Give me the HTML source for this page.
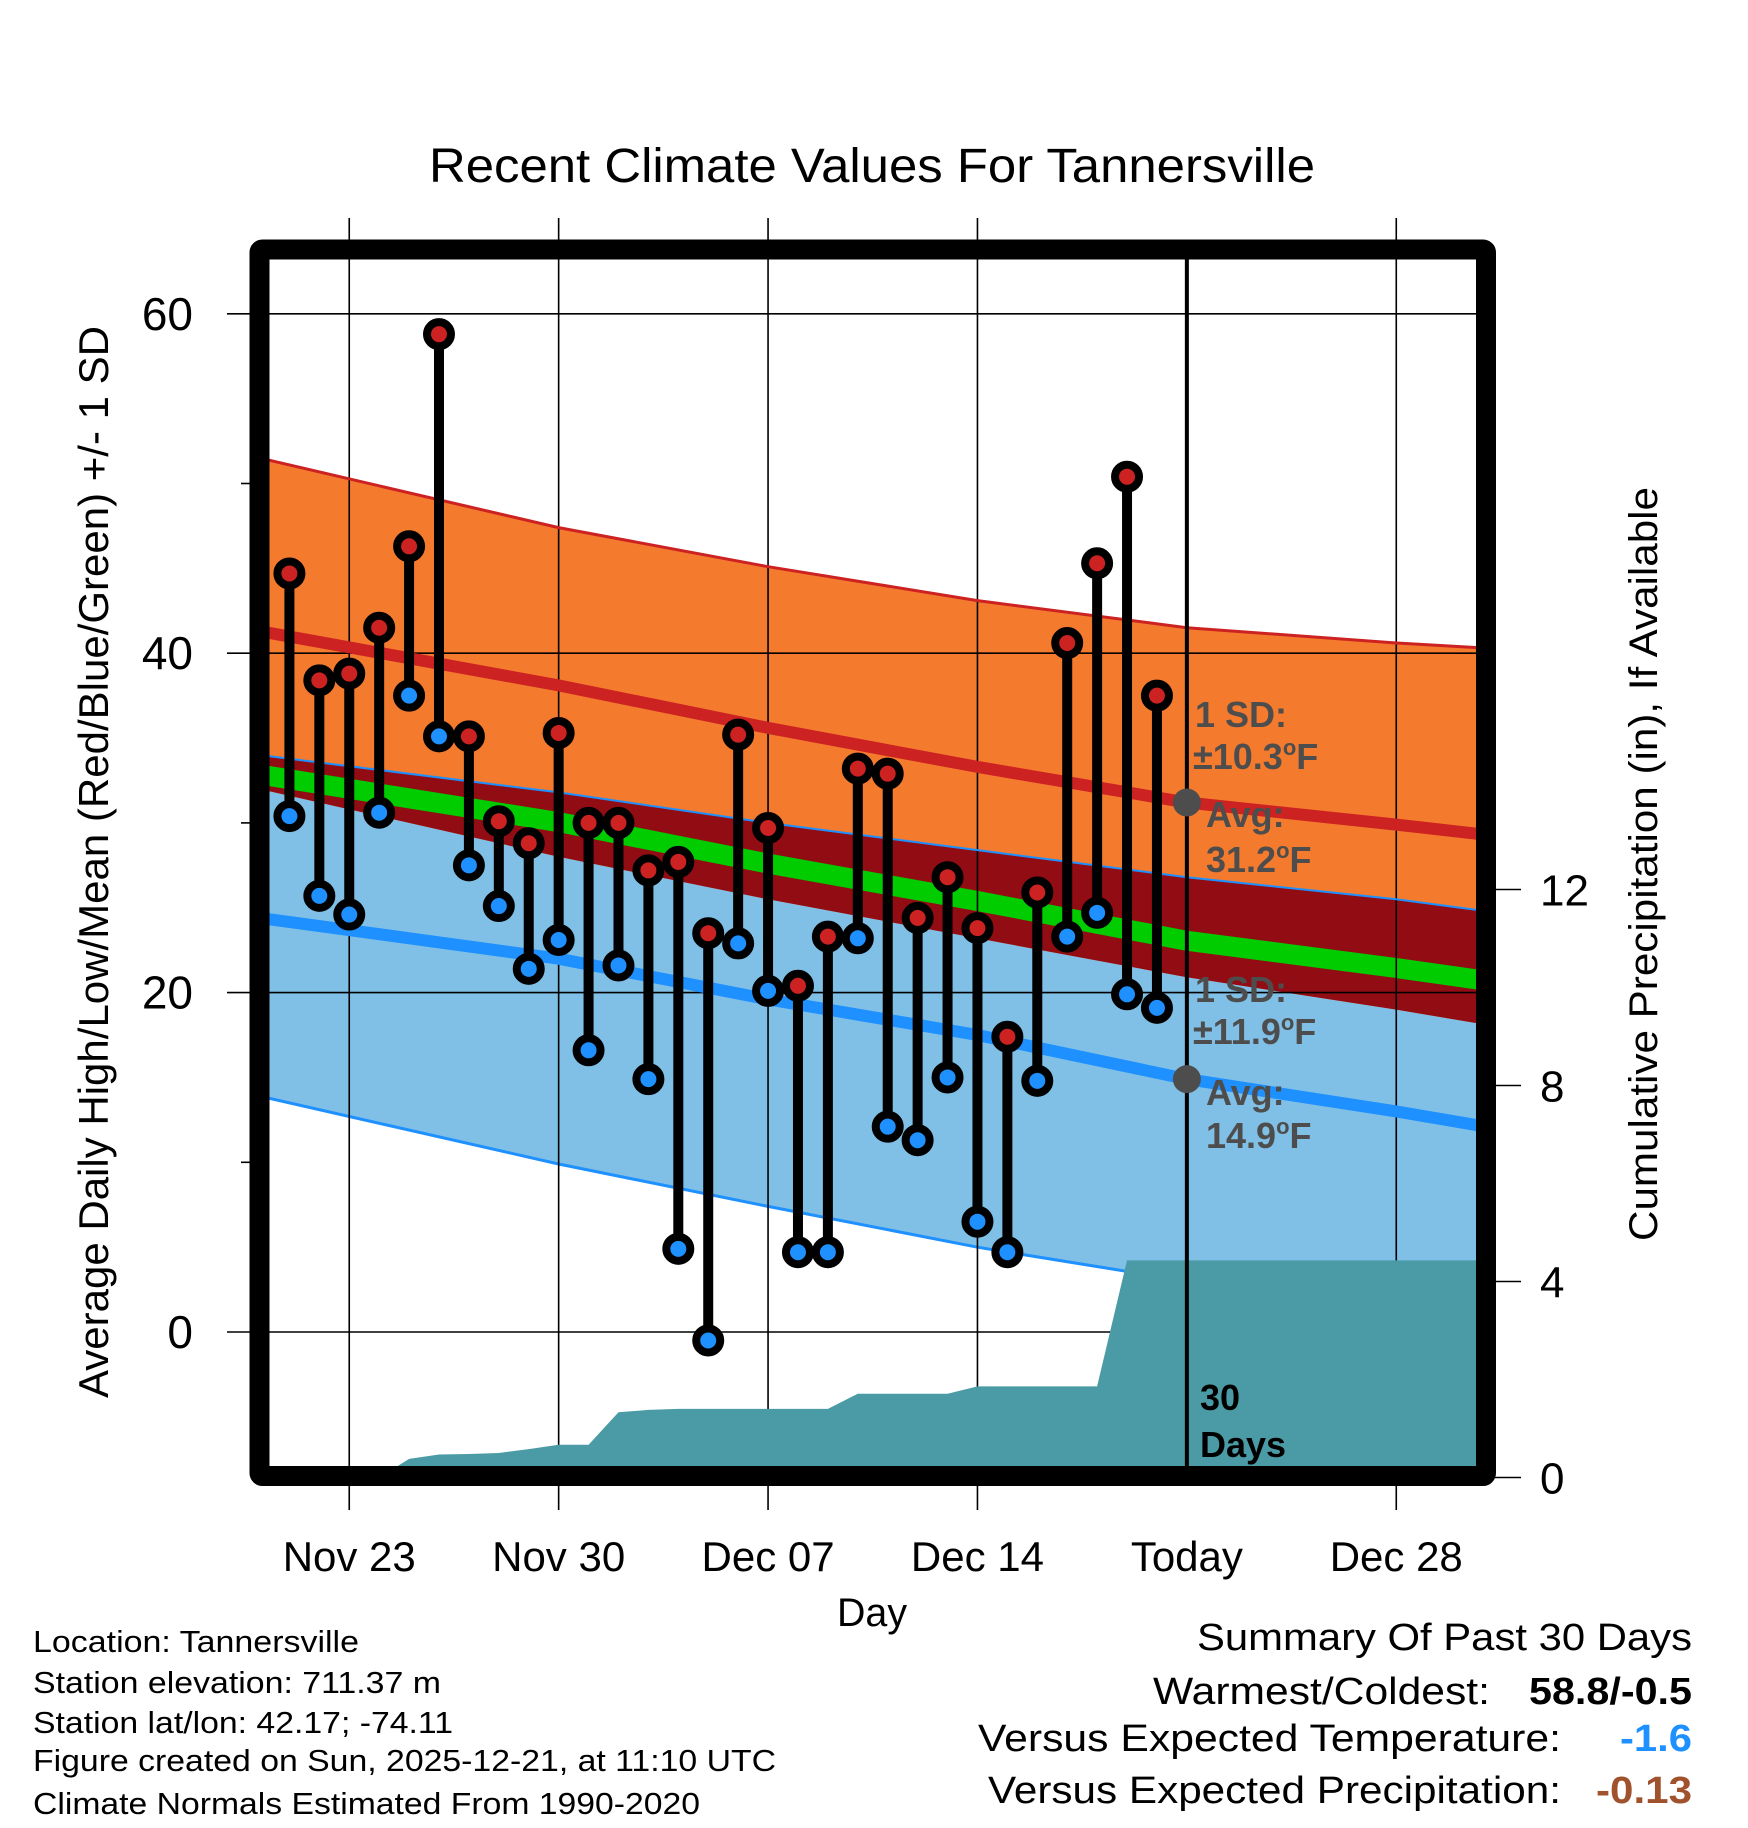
<!DOCTYPE html>
<html><head><meta charset="utf-8"><style>
html,body{margin:0;padding:0;background:#fff;}
svg{display:block;font-family:"Liberation Sans",Arial,sans-serif;}
</style></head><body>
<svg id="chart" width="1748" height="1828" viewBox="0 0 1748 1828" xmlns="http://www.w3.org/2000/svg">
<defs><clipPath id="plotclip"><rect x="259.5" y="249.5" width="1226.5" height="1226.5"/></clipPath></defs>
<rect x="0" y="0" width="1748" height="1828" fill="#fff"/>
<text x="872" y="182" font-size="48" text-anchor="middle" textLength="886" lengthAdjust="spacingAndGlyphs">Recent Climate Values For Tannersville</text>
<g id="fills" clip-path="url(#plotclip)"></g>
<g id="grid"></g>
<g id="precip" clip-path="url(#plotclip)"></g>
<g id="normlines" clip-path="url(#plotclip)"></g>
<g id="marks"></g>
<g id="annot"></g>
<rect x="259.5" y="249.5" width="1226.5" height="1226.5" fill="none" stroke="#000" stroke-width="20" rx="3"/>
<g id="axes"></g>
<text x="872" y="1626" font-size="40" text-anchor="middle" textLength="70" lengthAdjust="spacingAndGlyphs">Day</text>
<text transform="translate(108,862) rotate(-90)" font-size="42" text-anchor="middle" textLength="1072" lengthAdjust="spacingAndGlyphs">Average Daily High/Low/Mean (Red/Blue/Green) +/- 1 SD</text>
<text transform="translate(1657,864) rotate(-90)" font-size="40" text-anchor="middle" textLength="754" lengthAdjust="spacingAndGlyphs">Cumulative Precipitation (in), If Available</text>
<g font-size="31">
<text x="33" y="1652" textLength="326" lengthAdjust="spacingAndGlyphs">Location: Tannersville</text>
<text x="33" y="1693" textLength="408" lengthAdjust="spacingAndGlyphs">Station elevation: 711.37 m</text>
<text x="33" y="1733" textLength="420" lengthAdjust="spacingAndGlyphs">Station lat/lon: 42.17; -74.11</text>
<text x="33" y="1771" textLength="743" lengthAdjust="spacingAndGlyphs">Figure created on Sun, 2025-12-21, at 11:10 UTC</text>
<text x="33" y="1814" textLength="667" lengthAdjust="spacingAndGlyphs">Climate Normals Estimated From 1990-2020</text>
</g>
<g font-size="38">
<text x="1692" y="1650" text-anchor="end" textLength="495" lengthAdjust="spacingAndGlyphs">Summary Of Past 30 Days</text>
<text x="1490" y="1704" text-anchor="end" textLength="337" lengthAdjust="spacingAndGlyphs">Warmest/Coldest:</text>
<text x="1692" y="1704" text-anchor="end" font-weight="bold" textLength="163" lengthAdjust="spacingAndGlyphs">58.8/-0.5</text>
<text x="1561" y="1751" text-anchor="end" textLength="583" lengthAdjust="spacingAndGlyphs">Versus Expected Temperature:</text>
<text x="1692" y="1751" text-anchor="end" font-weight="bold" fill="#1e90ff" textLength="72" lengthAdjust="spacingAndGlyphs">-1.6</text>
<text x="1561" y="1803" text-anchor="end" textLength="573" lengthAdjust="spacingAndGlyphs">Versus Expected Precipitation:</text>
<text x="1692" y="1803" text-anchor="end" font-weight="bold" fill="#a0522d" textLength="96" lengthAdjust="spacingAndGlyphs">-0.13</text>
</g>
</svg>
<script>
// ---- data ----
const highs = [44.7,38.4,38.8,41.5,46.3,58.8,35.1,30.1,28.8,35.3,30.0,30.0,27.2,27.7,23.5,35.2,29.7,20.4,23.3,33.2,32.9,24.4,26.8,23.8,17.4,25.9,40.6,45.3,50.4,37.5];
const lows  = [30.4,25.7,24.6,30.6,37.5,35.1,27.5,25.1,21.4,23.1,16.6,21.6,14.9,4.9,-0.5,22.9,20.1,4.7,4.7,23.2,12.1,11.3,15.0,6.5,4.7,14.8,23.3,24.7,19.9,19.1];
const precip = [0,0,0,0,0.38,0.47,0.48,0.50,0.58,0.67,0.67,1.33,1.38,1.40,1.40,1.40,1.40,1.40,1.40,1.71,1.71,1.71,1.71,1.86,1.86,1.86,1.86,1.86,4.43,4.43];
const normDays  = [0,10,17,24,31,38,41];
const highUpper = [51.5,47.4,45.1,43.1,41.5,40.6,40.3];
const highAvg   = [41.3,38.1,35.6,33.3,31.2,29.9,29.3];
const highLower = [32.0,28.0,25.5,23.2,20.9,19.0,18.1];
const lowUpper  = [34.0,31.8,30.0,28.4,26.8,25.5,24.8];
const lowAvg    = [24.4,22.0,19.6,17.5,14.9,13.0,12.1];
const lowLower  = [13.9,9.9,7.4,5.0,3.0,1.1,0.4];
const xTickLabels = ["Nov 23","Nov 30","Dec 07","Dec 14","Today","Dec 28"];
const xTickDays = [3,10,17,24,31,38];
const yTicks = [0,20,40,60];
const yMinor = [10,30,50];
const y2Ticks = [0,4,8,12];
const todayDay = 31;

// ---- axes ----
const NS="http://www.w3.org/2000/svg";
const X0=259.5, DX=29.915;
const xOf=d=>X0+d*DX;
const yT=t=>1332-t*16.97;
const yP=p=>1477.5-p*49;
function mk(tag,parent,attrs){const e=document.createElementNS(NS,tag);for(const k in attrs)e.setAttribute(k,attrs[k]);parent.appendChild(e);return e;}
const fills=document.getElementById('fills'), grid=document.getElementById('grid'), pg=document.getElementById('precip'),
 nl=document.getElementById('normlines'), marks=document.getElementById('marks'), annot=document.getElementById('annot'), axes=document.getElementById('axes');
const pts=(arr)=>normDays.map((d,i)=>xOf(d).toFixed(1)+','+yT(arr[i]).toFixed(1));
function band(a,b,color,name){
  const p=pts(a).concat(pts(b).reverse()).join(' ');
  const e=mk('polygon',fills,{points:p,fill:color});
  
  
}
band(lowUpper,lowLower,'#80c0e6','low-sd-band');
band(highUpper,highLower,'#f47a2e','high-sd-band');
band(lowUpper,highLower,'#920c13','overlap-band');
const meanVals=highAvg.map((h,i)=>(h+lowAvg[i])/2);
function line(arr,color,w,name,parent){
  const e=mk('polyline',parent,{points:pts(arr).join(' '),fill:'none',stroke:color,'stroke-width':w});
  
  
}
line(meanVals,'#00cc00',20,'mean-line',fills);
line(lowLower,'#1e90ff',3,'low-lower-line',fills);
// grid
xTickDays.forEach((d,i)=>{
  if(d===todayDay) return;
  const e=mk('line',grid,{x1:xOf(d),x2:xOf(d),y1:218,y2:1510,stroke:'#000','stroke-width':1.6});
  
  
});
yTicks.forEach(t=>{
  const e=mk('line',grid,{x1:227,x2:1486,y1:yT(t),y2:yT(t),stroke:'#000','stroke-width':1.6});
  
  
});
// precipitation
let pp=[xOf(0)+','+yP(0)];
precip.forEach((v,i)=>pp.push(xOf(i+1).toFixed(1)+','+yP(v).toFixed(1)));
pp.push(xOf(41)+','+yP(precip[precip.length-1]));
pp.push(xOf(41)+','+yP(0));
const pa=mk('polygon',pg,{points:pp.join(' '),fill:'#4a9ba5'});


// normal lines
line(highUpper,'#cc2222',3,'high-upper-line',nl);
line(lowUpper,'#1e90ff',2,'low-upper-line',nl);
line(highAvg,'#cc2222',12,'high-avg-line',nl);
line(lowAvg,'#1e90ff',12,'low-avg-line',nl);
// today line
const tl=mk('line',marks,{x1:xOf(todayDay),x2:xOf(todayDay),y1:252,y2:1474,stroke:'#000','stroke-width':4});


// stems & markers
highs.forEach((h,i)=>{
  const x=xOf(i+1);
  const s=mk('line',marks,{x1:x,x2:x,y1:yT(h),y2:yT(lows[i]),stroke:'#000','stroke-width':10});
  
  
});
highs.forEach((h,i)=>{
  const x=xOf(i+1);
  const a=mk('circle',marks,{cx:x,cy:yT(h),r:12,fill:'#cc2222',stroke:'#000','stroke-width':8});
  
  
  const b=mk('circle',marks,{cx:x,cy:yT(lows[i]),r:12,fill:'#1e90ff',stroke:'#000','stroke-width':8});
  
  
});
// annotations
const hA=highAvg[4], lA=lowAvg[4];
[[hA,'high-avg-dot'],[lA,'low-avg-dot']].forEach(([v,n])=>{
  const c=mk('circle',annot,{cx:xOf(todayDay),cy:yT(v),r:14,fill:'#4d4d4d'});
  
  
});
function at(x,y,html,name,fill){
  const t=mk('text',annot,{x:x,y:y,'font-size':36,'font-weight':'bold',fill:fill||'#4d4d4d'});
  t.innerHTML=html;
  
  
}
at(1195,727,'1 SD:','high-sd-label');
at(1193,769,'±10.3<tspan dy="-14" font-size="22">o</tspan><tspan dy="14">F</tspan>','high-sd-value');
at(1206,827,'Avg:','high-avg-label');
at(1206,872,'31.2<tspan dy="-14" font-size="22">o</tspan><tspan dy="14">F</tspan>','high-avg-value');
at(1195,1002,'1 SD:','low-sd-label');
at(1193,1044,'±11.9<tspan dy="-14" font-size="22">o</tspan><tspan dy="14">F</tspan>','low-sd-value');
at(1206,1105,'Avg:','low-avg-label');
at(1206,1148,'14.9<tspan dy="-14" font-size="22">o</tspan><tspan dy="14">F</tspan>','low-avg-value');
at(1200,1410,'30','days-label','#000');
at(1200,1457,'Days','days-label-2','#000');
// axis labels
xTickLabels.forEach((lab,i)=>{
  const t=mk('text',axes,{x:xOf(xTickDays[i]),y:1571,'font-size':42,'text-anchor':'middle'});
  t.textContent=lab;
  
  
});
yTicks.forEach(v=>{
  const t=mk('text',axes,{x:193,y:yT(v)+16,'font-size':46,'text-anchor':'end'});
  t.textContent=v;
  
  
});
yMinor.forEach(v=>{
  const e=mk('line',axes,{x1:241,x2:252,y1:yT(v),y2:yT(v),stroke:'#000','stroke-width':1.6});
  
  
});
y2Ticks.forEach(v=>{
  const e=mk('line',axes,{x1:1494,x2:1521,y1:yP(v),y2:yP(v),stroke:'#000','stroke-width':1.6});
  
  
  const t=mk('text',axes,{x:1540,y:yP(v)+16,'font-size':44});
  t.textContent=v;
  
  
});
</script>
</body></html>
